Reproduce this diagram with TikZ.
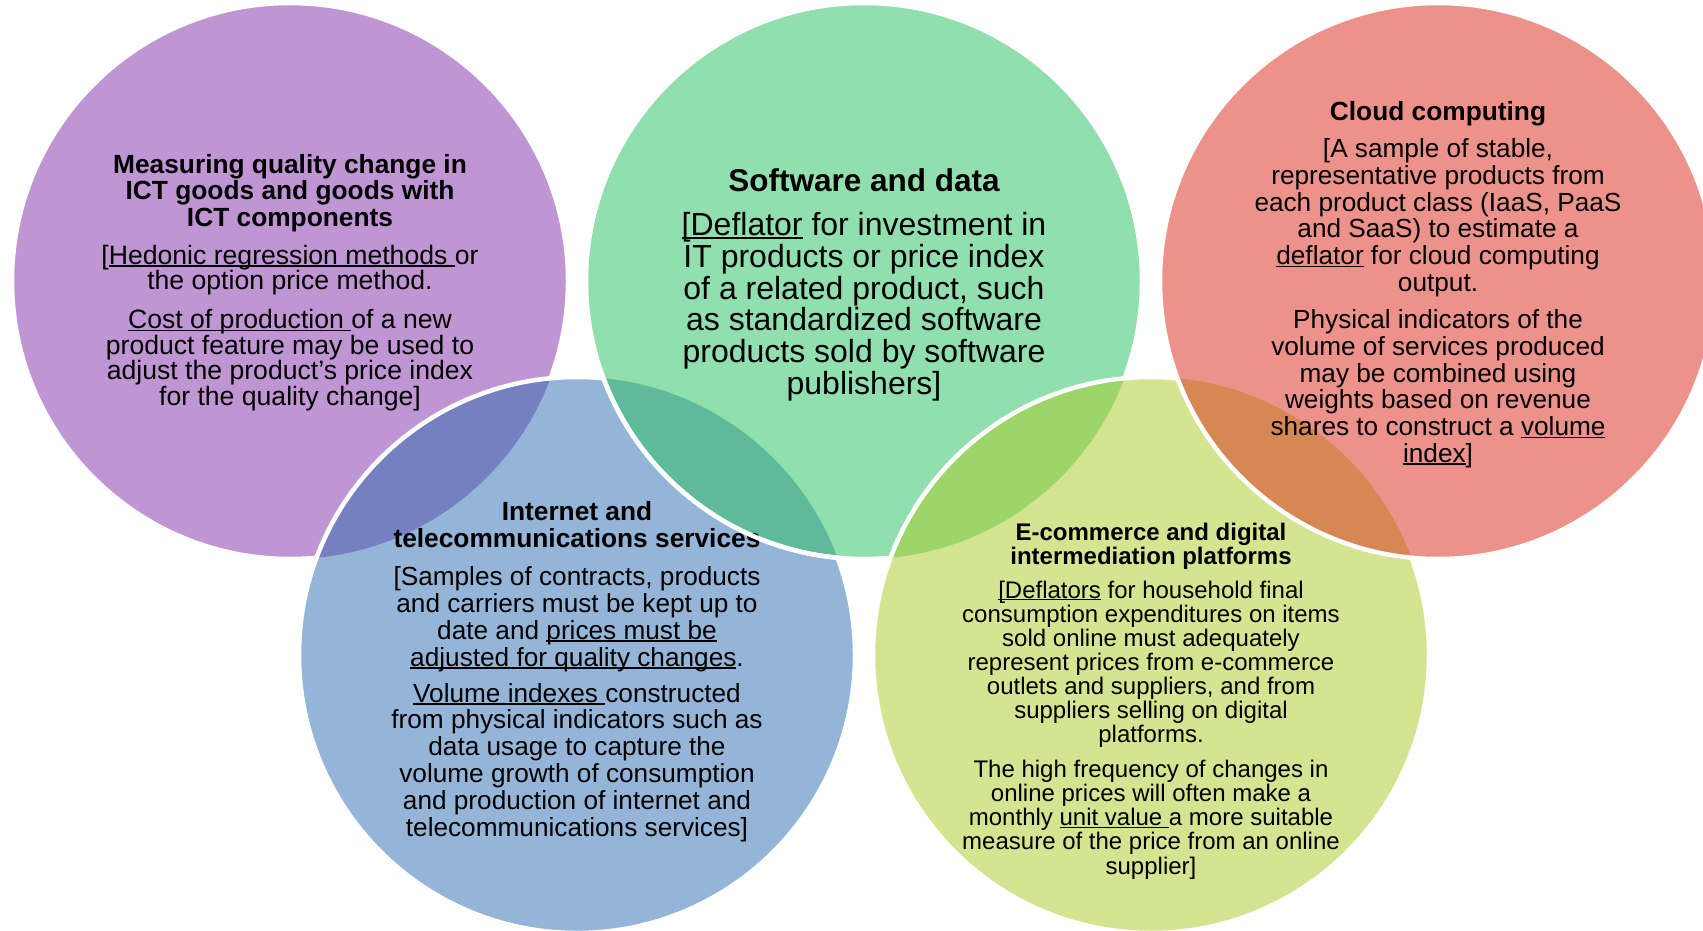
\documentclass[tikz,border=0pt]{standalone}
\usepackage{fontspec}
\setmainfont{Liberation Sans}
\definecolor{cpurple}{RGB}{191,149,211}
\definecolor{cgreen}{RGB}{145,223,174}
\definecolor{cred}{RGB}{236,146,138}
\definecolor{cblue}{RGB}{149,181,216}
\definecolor{cyellow}{RGB}{213,228,145}
\definecolor{opb}{RGB}{116,128,192}
\definecolor{ogb}{RGB}{94,186,155}
\definecolor{ogy}{RGB}{158,213,106}
\definecolor{ory}{RGB}{214,135,83}
\newcommand\myul[1]{\setbox0=\hbox{#1}\rlap{\rule[-0.1em]{\wd0}{0.065em}}\box0\relax}
\tikzset{
  ring/.style={draw=white, line width=4.5pt},
  txt/.style={align=center, anchor=base, inner sep=0pt, text=black},
  ttlA/.style={txt, font=\bfseries\fontsize{26.3}{26.5}\selectfont},
  bodyA/.style={txt, font=\fontsize{26.6}{25.6}\selectfont},
  ttlG/.style={txt, font=\bfseries\fontsize{31.5}{32}\selectfont},
  bodyG/.style={txt, font=\fontsize{32}{31.8}\selectfont},
  bodyR/.style={txt, font=\fontsize{26.2}{26.8}\selectfont},
  ttlY/.style={txt, font=\bfseries\fontsize{24}{24}\selectfont},
  bodyY/.style={txt, font=\fontsize{24}{24.1}\selectfont},
}
\def\rr{278pt}
\begin{document}
\begin{tikzpicture}[x=1pt,y=-1pt]
\useasboundingbox (0,0) rectangle (1703,931);
\fill[white] (0,0) rectangle (1703,931);
\coordinate (cP) at (290,281);
\coordinate (cG) at (864,281);
\coordinate (cR) at (1438,281);
\coordinate (cB) at (577,655);
\coordinate (cY) at (1151,655);
% purple
\fill[cpurple] (cP) circle[radius=\rr];
\draw[ring] (cP) circle[radius=\rr];
% blue
\fill[cblue] (cB) circle[radius=\rr];
\begin{scope}
  \clip (cB) circle[radius=\rr];
  \fill[opb] (cP) circle[radius=\rr];
\end{scope}
\draw[ring] (cB) circle[radius=\rr];
% green
\fill[cgreen] (cG) circle[radius=\rr];
\begin{scope}
  \clip (cG) circle[radius=\rr];
  \fill[ogb] (cB) circle[radius=\rr];
\end{scope}
\draw[ring] (cG) circle[radius=\rr];
% yellow
\fill[cyellow] (cY) circle[radius=\rr];
\begin{scope}
  \clip (cY) circle[radius=\rr];
  \fill[ogy] (cG) circle[radius=\rr];
\end{scope}
\draw[ring] (cY) circle[radius=\rr];
% red
\fill[cred] (cR) circle[radius=\rr];
\begin{scope}
  \clip (cR) circle[radius=\rr];
  \fill[ory] (cY) circle[radius=\rr];
\end{scope}
\draw[ring] (cR) circle[radius=\rr];

% purple texts (anchor = baseline of last line)
\node[ttlA] (tP) at (290,226) {Measuring quality change in\\ICT goods and goods with\\ICT components};
\node[bodyA] (bP1) at (290,289.6) {[\myul{Hedonic regression methods\ }or\\the option price method.};
\node[bodyA] (bP2) at (290,405.5) {\myul{Cost of production\ }of a new\\product feature may be used to\\adjust the product’s price index\\for the quality change]};
% green texts
\node[ttlG] (tG) at (864,191.5) {Software and data};
\node[bodyG] (bG) at (864,394.5) {\myul{[Deflator} for investment in\\IT products or price index\\of a related product, such\\as standardized software\\products sold by software\\publishers]};
% red texts
\node[ttlA] (tR) at (1438,121) {Cloud computing};
\node[bodyR] (bR1) at (1438,291.5) {[A sample of stable,\\representative products from\\each product class (IaaS, PaaS\\and SaaS) to estimate a\\\myul{deflator} for cloud computing\\output.};
\node[bodyR] (bR2) at (1438,462.5) {Physical indicators of the\\volume of services produced\\may be combined using\\weights based on revenue\\shares to construct a \myul{volume}\\\myul{index}]};
% blue texts
\node[ttlA] (tB) at (577,547) {Internet and\\telecommunications services};
\node[bodyR] (bB1) at (577,666) {[Samples of contracts, products\\and carriers must be kept up to\\date and \myul{prices must be}\\\myul{adjusted for quality changes}.};
\node[bodyR] (bB2) at (577,836) {\myul{Volume indexes\ }constructed\\from physical indicators such as\\data usage to capture the\\volume growth of consumption\\and production of internet and\\telecommunications services]};
% yellow texts
\node[ttlY] (tY) at (1151,564) {E-commerce and digital\\intermediation platforms};
\node[bodyY] (bY1) at (1151,742.6) {\myul{[Deflators} for household final\\consumption expenditures on items\\sold online must adequately\\represent prices from e-commerce\\outlets and suppliers, and from\\suppliers selling on digital\\platforms.};
\node[bodyY] (bY2) at (1151,874) {The high frequency of changes in\\online prices will often make a\\monthly \myul{unit value\ }a more suitable\\measure of the price from an online\\supplier]};

% green rim over the blue title
\begin{scope}
  \clip (cB) circle[radius=\rr];
  \draw[ring] (cG) circle[radius=\rr];
\end{scope}
\end{tikzpicture}
\end{document}
